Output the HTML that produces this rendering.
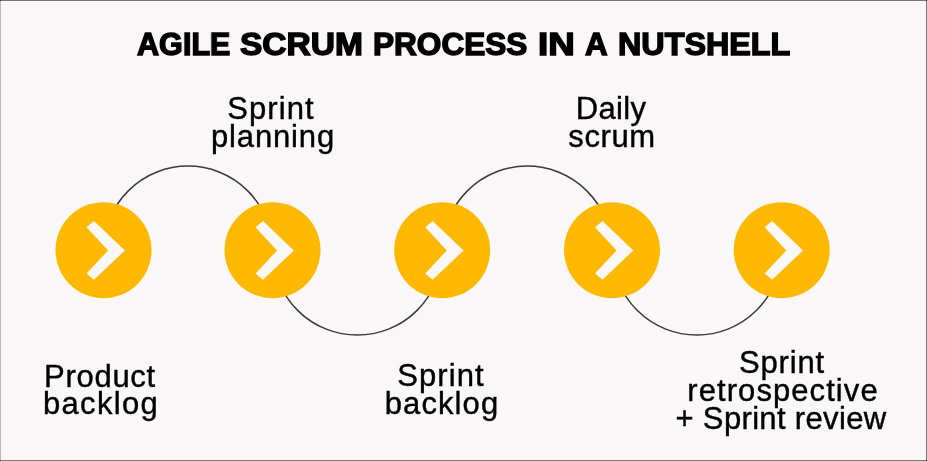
<!DOCTYPE html>
<html>
<head>
<meta charset="utf-8">
<style>
html,body{margin:0;padding:0;}
body{width:927px;height:461px;overflow:hidden;background:#f9f7f7;position:relative;font-family:"Liberation Sans",sans-serif;color:#000;}
.frame{position:absolute;left:0;top:0;width:927px;height:461px;box-sizing:border-box;border-top:1px solid #787878;border-left:1px solid #b8b8b8;border-right:1px solid #787878;border-bottom:1px solid #787878;}
svg{position:absolute;left:0;top:0;}
.t{position:absolute;white-space:nowrap;text-align:center;font-size:31px;line-height:0;height:0;width:400px;will-change:transform;-webkit-text-stroke:0.4px #000;}
.w{position:absolute;white-space:nowrap;font-weight:bold;font-size:30.6px;line-height:40px;transform-origin:0 0;will-change:transform;-webkit-text-stroke:1.4px #000;}
</style>
</head>
<body>
<svg width="927" height="461" viewBox="0 0 927 461">
<g fill="none" stroke="#3a3a3a" stroke-width="1.5">
<path d="M103.5 250.6 A84.500 84.500 0 0 1 272.5 250.6"/>
<path d="M272.85 250.6 A84.500 84.500 0 0 0 441.85 250.6"/>
<path d="M442.6 250.6 A84.500 84.500 0 0 1 611.6 250.6"/>
<path d="M612.35 250.6 A84.500 84.500 0 0 0 781.35 250.6"/>
</g>
<g fill="#ffb800"><circle cx="103.5" cy="250.2" r="48"/><circle cx="272.5" cy="250.2" r="48"/><circle cx="442.2" cy="250.2" r="48"/><circle cx="612.0" cy="250.2" r="48"/><circle cx="781.7" cy="250.2" r="48"/></g>
<g fill="#f9f7f7">
<polygon points="94.00,221.00 124.90,250.40 94.00,279.80 86.50,273.60 108.10,250.40 86.50,227.20"/>
<polygon points="263.00,221.00 293.90,250.40 263.00,279.80 255.50,273.60 277.10,250.40 255.50,227.20"/>
<polygon points="432.70,221.00 463.60,250.40 432.70,279.80 425.20,273.60 446.80,250.40 425.20,227.20"/>
<polygon points="602.50,221.00 633.40,250.40 602.50,279.80 595.00,273.60 616.60,250.40 595.00,227.20"/>
<polygon points="772.20,221.00 803.10,250.40 772.20,279.80 764.70,273.60 786.30,250.40 764.70,227.20"/>
</g></svg>
<div class="w" style="left:137.00px;top:24.00px;transform:scaleX(0.9983)">AGILE</div>
<div class="w" style="left:240.00px;top:24.00px;transform:scaleX(1.0960)">SCRUM</div>
<div class="w" style="left:373.40px;top:24.00px;transform:scaleX(1.0319)">PROCESS</div>
<div class="w" style="left:538.40px;top:24.00px;transform:scaleX(1.2008)">IN</div>
<div class="w" style="left:584.80px;top:24.00px;transform:scaleX(1.0238)">A</div>
<div class="w" style="left:618.20px;top:24.00px;transform:scaleX(1.0557)">NUTSHELL</div>
<div class="t" style="left:71.44px;top:108.60px;letter-spacing:1.080px">Sprint</div>
<div class="t" style="left:72.78px;top:136.70px;letter-spacing:0.850px">planning</div>
<div class="t" style="left:411.27px;top:108.60px;letter-spacing:0.350px">Daily</div>
<div class="t" style="left:412.05px;top:136.60px;letter-spacing:0.600px">scrum</div>
<div class="t" style="left:-100.29px;top:376.70px;letter-spacing:0.717px">Product</div>
<div class="t" style="left:-99.10px;top:404.30px;letter-spacing:1.300px">backlog</div>
<div class="t" style="left:241.44px;top:376.20px;letter-spacing:1.080px">Sprint</div>
<div class="t" style="left:242.35px;top:404.20px;letter-spacing:1.100px">backlog</div>
<div class="t" style="left:582.45px;top:362.80px;letter-spacing:0.800px">Sprint</div>
<div class="t" style="left:582.54px;top:390.70px;letter-spacing:1.073px">retrospective</div>
<div class="t" style="left:581.12px;top:418.70px;letter-spacing:0.343px">+ Sprint review</div>
<div class="frame"></div>
<div style="position:absolute;left:0;top:0;width:1px;height:1px;background:#3a3a3a"></div><div style="position:absolute;right:0;top:0;width:1px;height:1px;background:#2a2a2a"></div><div style="position:absolute;left:0;bottom:0;width:1px;height:1px;background:#444"></div><div style="position:absolute;right:0;bottom:0;width:1px;height:1px;background:#2a2a2a"></div>
</body>
</html>
